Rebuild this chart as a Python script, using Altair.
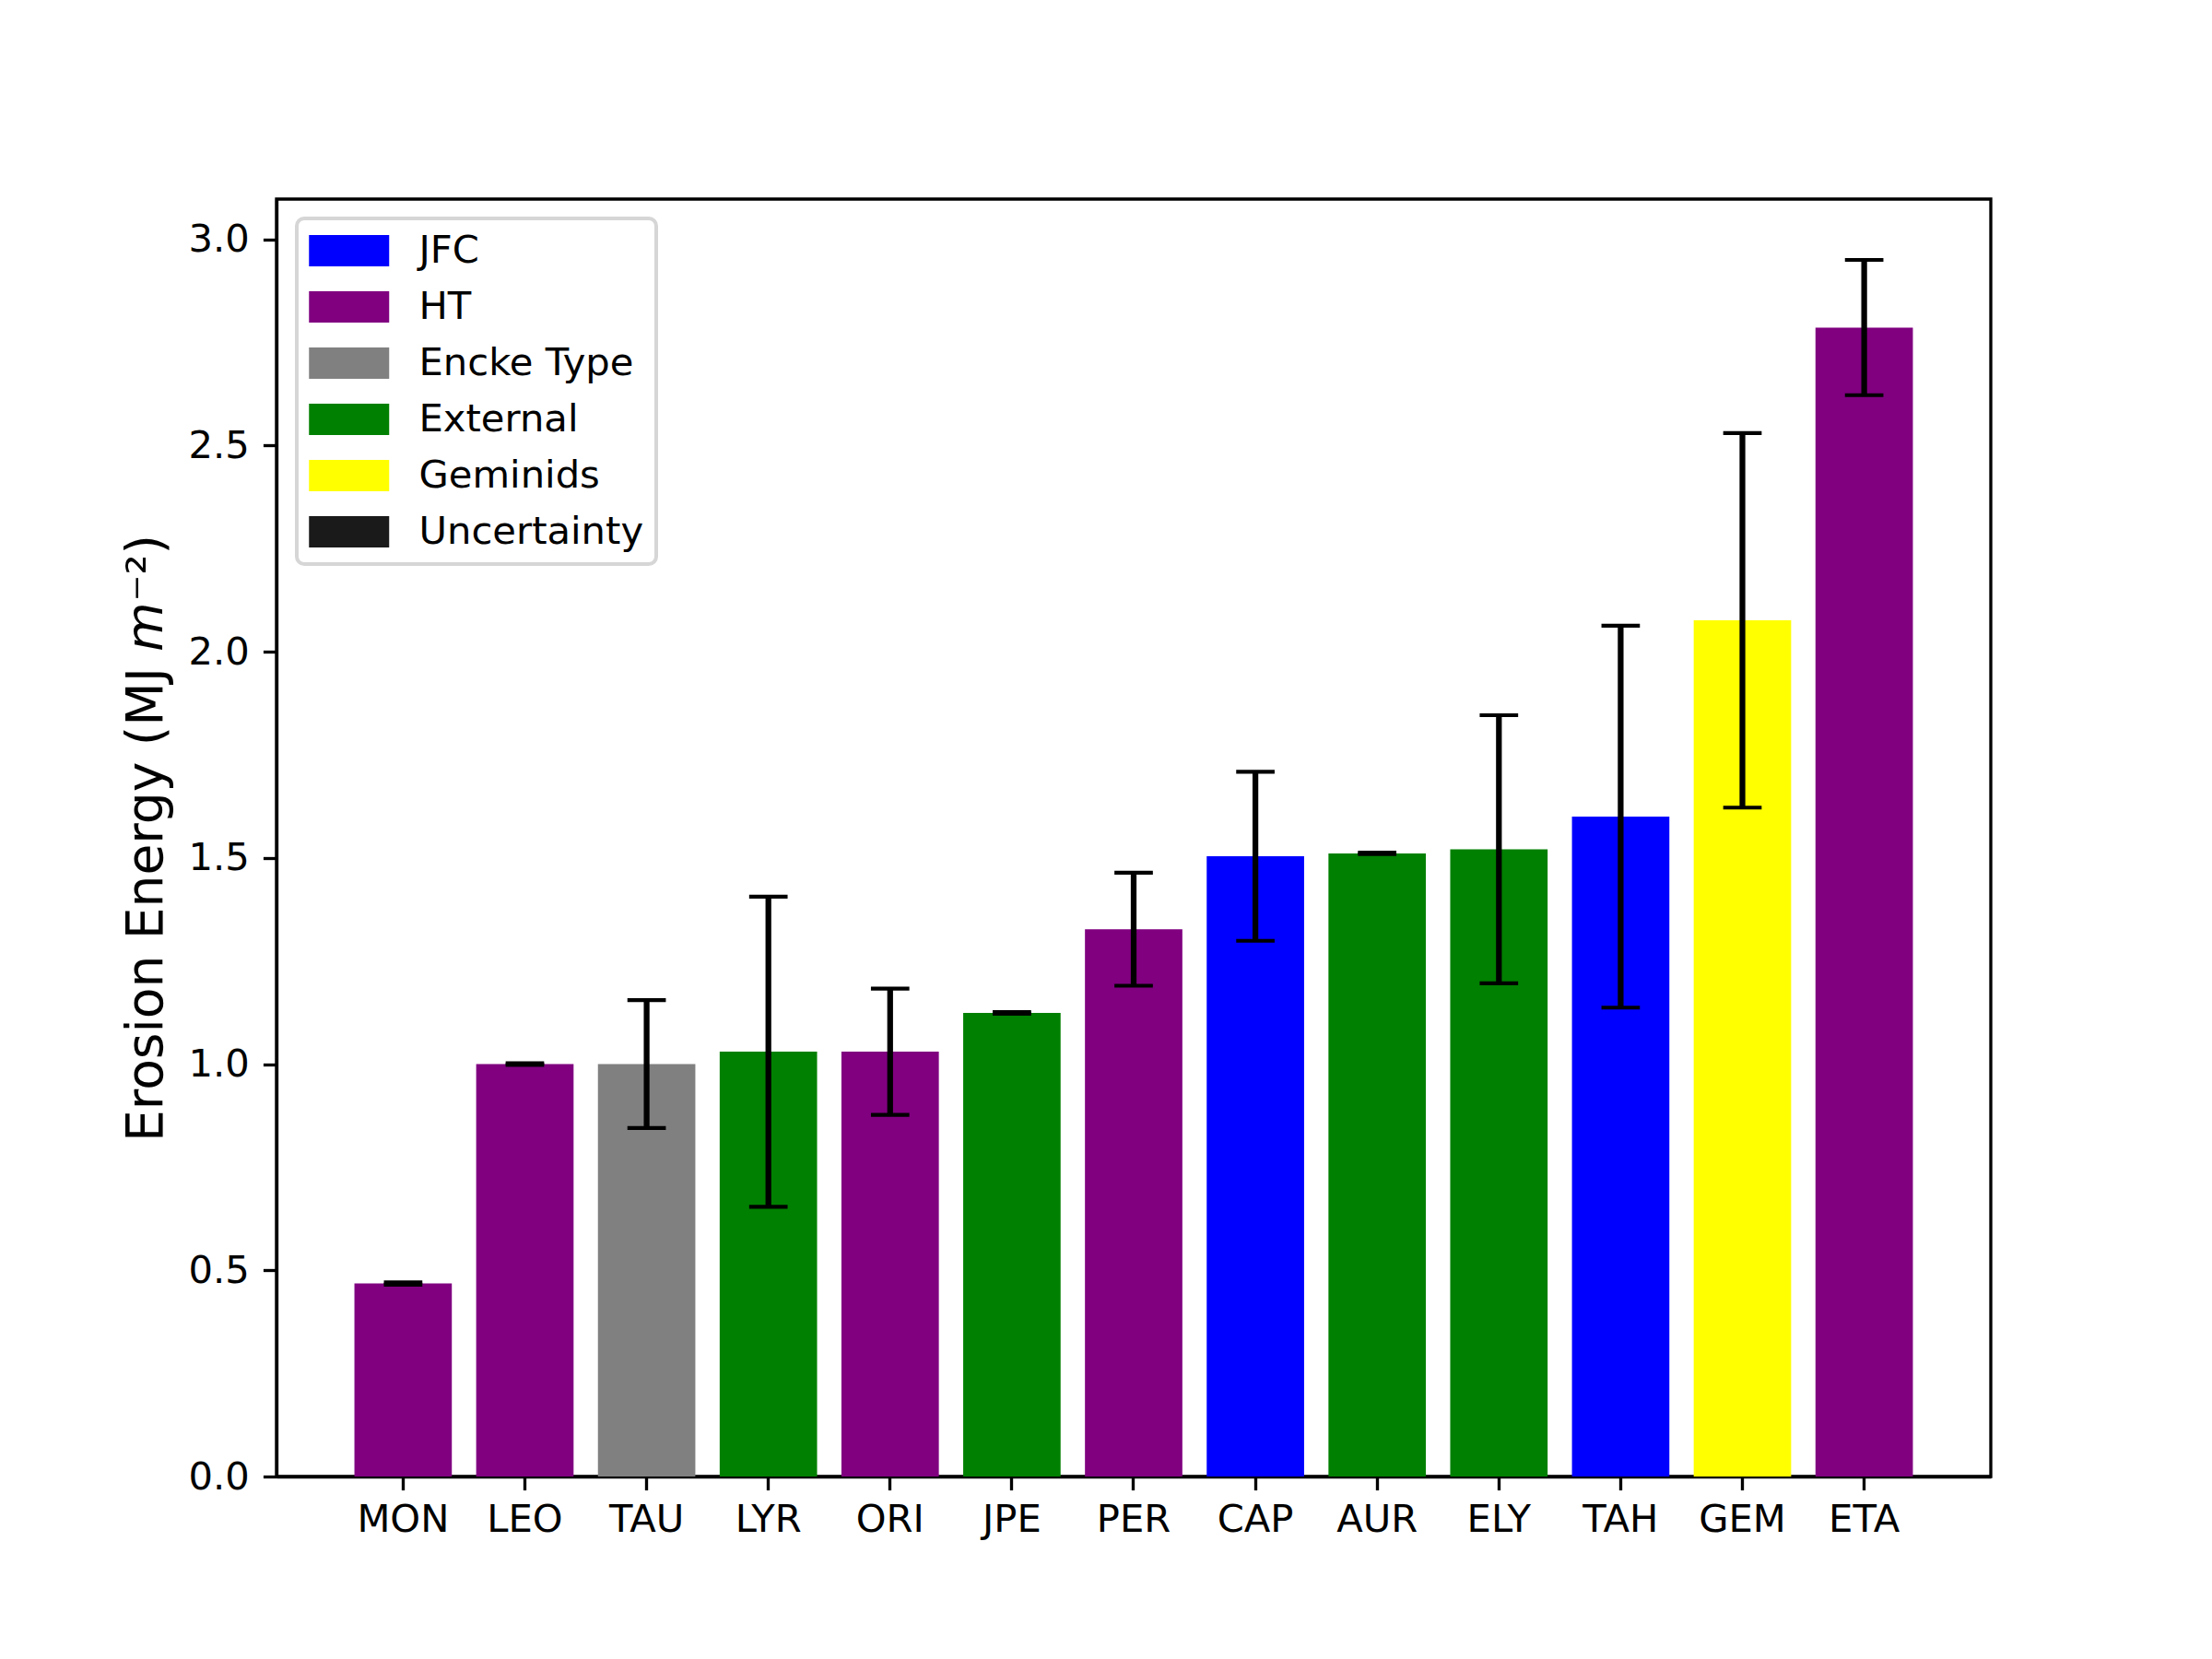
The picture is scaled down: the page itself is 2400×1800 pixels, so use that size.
import altair as alt
import pandas as pd

# ---- data ----
showers = ["MON", "LEO", "TAU", "LYR", "ORI", "JPE", "PER",
           "CAP", "AUR", "ELY", "TAH", "GEM", "ETA"]
energy = [0.468, 1.000, 1.000, 1.030, 1.030, 1.124, 1.327,
          1.504, 1.511, 1.521, 1.600, 2.076, 2.786]
uncertainty = [0.003, 0.002, 0.155, 0.376, 0.153, 0.002, 0.137,
               0.205, 0.002, 0.325, 0.463, 0.454, 0.164]
groups = ["HT", "HT", "Encke Type", "External", "HT", "External", "HT",
          "JFC", "External", "External", "JFC", "Geminids", "HT"]

legend_names = ["JFC", "HT", "Encke Type", "External", "Geminids", "Uncertainty"]
legend_colors = ["#0000ff", "#800080", "#808080", "#008000", "#ffff00", "#1a1a1a"]
y_ticks = [0.0, 0.5, 1.0, 1.5, 2.0, 2.5, 3.0]

df = pd.DataFrame({
    "shower": showers,
    "energy": energy,
    "err": uncertainty,
    "group": groups,
})
df["lower"] = df["energy"] - df["err"]
df["upper"] = df["energy"] + df["err"]

FONT = "DejaVu Sans"
TICK_FS = 41.7

x_enc = alt.X("shower:N", sort=showers,
              scale=alt.Scale(paddingInner=0.2, paddingOuter=0.64),
              axis=alt.Axis(title=None, labelAngle=0, labelPadding=12))
y_scale = alt.Scale(domain=[0, 3.0975], nice=False, zero=False)

base = alt.Chart(df)

bars = base.mark_bar(strokeWidth=0).encode(
    x=x_enc,
    y=alt.Y("energy:Q", scale=y_scale,
            axis=alt.Axis(values=y_ticks, format=".1f", labelPadding=15,
                          title="Erosion Energy (MJ 𝘮⁻²)",
                          titleFont=FONT, titleFontSize=55, titleFontWeight="normal",
                          titleColor="black", titleAngle=270, titleAlign="center",
                          titleBaseline="alphabetic", titleX=-125, titleY=693)),
    color=alt.Color("group:N",
                    scale=alt.Scale(domain=legend_names, range=legend_colors),
                    legend=alt.Legend(
                        orient="none", legendX=22, legendY=21, title=None,
                        labelFont=FONT, labelFontSize=TICK_FS, labelColor="black",
                        labelLimit=600,
                        symbolType="M-1,-0.78L3,-0.78L3,0.78L-1,0.78Z",
                        symbolSize=1892, symbolStrokeWidth=0, symbolOpacity=1,
                        padding=13, rowPadding=17, labelOffset=75.5,
                        strokeColor="#d6d6d6", fillColor="white", cornerRadius=8)),
)

rule = base.mark_rule(color="black", strokeWidth=6.25).encode(
    x=x_enc,
    y=alt.Y("lower:Q", scale=y_scale),
    y2="upper:Q",
)
cap_low = base.mark_tick(color="black", thickness=4.17, size=41.7, opacity=1).encode(
    x=x_enc, y=alt.Y("lower:Q", scale=y_scale))
cap_high = base.mark_tick(color="black", thickness=4.17, size=41.7, opacity=1).encode(
    x=x_enc, y=alt.Y("upper:Q", scale=y_scale))

chart = alt.layer(bars, rule, cap_low, cap_high).properties(
    width=1860, height=1386,
    autosize=alt.AutoSizeParams(type="none"),
    padding={"left": 292, "top": 208, "right": 232, "bottom": 190},
    background="white",
).configure_view(
    stroke="black", strokeWidth=3.33
).configure_axis(
    domainColor="black", domainWidth=3.33, tickColor="black", tickWidth=3.33,
    tickSize=14.6, labelFont=FONT, labelFontSize=TICK_FS, labelColor="black",
    grid=False, zindex=1
).configure_legend(
    strokeWidth=4
)

chart.save("out.html", embed_options={"renderer": "svg", "actions": False})
